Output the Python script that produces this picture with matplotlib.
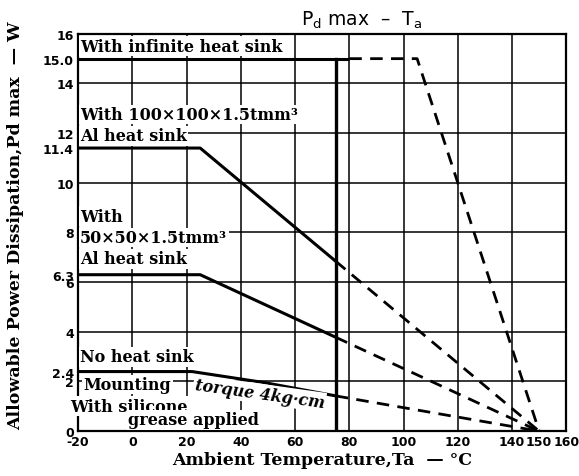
import numpy as np
import matplotlib
matplotlib.use("Agg")
import matplotlib.pyplot as plt

# ------------------------
# data
# ------------------------
x_ticks = [-20, 0, 20, 40, 60, 80, 100, 120, 140, 150, 160]
y_ticks = [0, 2, 2.4, 4, 6, 6.3, 8, 10, 11.4, 12, 14, 15.0, 16]
y_labels = ["0", "2", "2.4", "4", "6", "6.3", "8", "10", "11.4", "12", "14", "15.0", "16"]

# infinite heat sink
inf_T = [-20, 80]
inf_P = [15.0, 15.0]
inf_T_d = [80, 105, 150]
inf_P_d = [15.0, 15.0, 0]

# 100x100x1.5 Al heat sink
al100_T = [-20, 25, 75]
al100_P = [11.4, 11.4, 6.84]
al100_T_d = [75, 150]
al100_P_d = [6.84, 0]

# 50x50x1.5 Al heat sink
al50_T = [-20, 25, 75]
al50_P = [6.3, 6.3, 3.78]
al50_T_d = [75, 150]
al50_P_d = [3.78, 0]

# no heat sink
nohs_T = [-20, 22, 49, 75]
nohs_P = [2.4, 2.4, 1.95, 1.42]
nohs_T_d = [75, 150]
nohs_P_d = [1.42, 0]

# case limit line
limit_T = 75
limit_P = [0, 15.0]

# ------------------------
# figure
# ------------------------
fig = plt.figure(figsize=(5.79, 4.77), dpi=100)
ax = fig.add_axes([0.135, 0.094, 0.843, 0.833])

serif = "DejaVu Serif"

for t in range(-20, 161, 20):
    ax.axvline(t, color="black", lw=1.1, zorder=1)
for p in range(0, 17, 2):
    ax.axhline(p, color="black", lw=1.1, zorder=1)

solid = dict(color="black", lw=2.2, zorder=3, solid_capstyle="butt")
dashed = dict(color="black", lw=2.0, zorder=3, linestyle=(0, (4.5, 3)))

ax.plot(inf_T, inf_P, **solid)
ax.plot(inf_T_d, inf_P_d, **dashed)
ax.plot(al100_T, al100_P, **solid)
ax.plot(al100_T_d, al100_P_d, **dashed)
ax.plot(al50_T, al50_P, **solid)
ax.plot(al50_T_d, al50_P_d, **dashed)
ax.plot(nohs_T, nohs_P, **solid)
ax.plot(nohs_T_d, nohs_P_d, **dashed)
ax.plot([limit_T, limit_T], limit_P, color="black", lw=2.4, zorder=3)

ax.set_xlim(-20, 160)
ax.set_ylim(0, 16)
ax.set_xticks(x_ticks)
ax.set_xticklabels([str(t) for t in x_ticks], fontsize=9, fontweight="bold",
                   family="DejaVu Sans")
ax.set_yticks(y_ticks)
ax.set_yticklabels(y_labels, fontsize=9, fontweight="bold", family="DejaVu Sans")
ax.tick_params(length=0, pad=3)
for s in ax.spines.values():
    s.set_linewidth(1.6)

box = dict(facecolor="white", edgecolor="none", pad=1.0)
lab = dict(fontsize=11.5, family=serif, fontweight="bold", va="center",
           ha="left", zorder=4, bbox=box)

ax.text(-19.3, 15.5, "With infinite heat sink", **lab)
ax.text(-19.3, 12.75, "With 100×100×1.5tmm³", **lab)
ax.text(-19.3, 11.9, "Al heat sink", **lab)
ax.text(-19.3, 8.65, "With", **lab)
ax.text(-19.3, 7.8, "50×50×1.5tmm³", **lab)
ax.text(-19.3, 6.95, "Al heat sink", **lab)
ax.text(-19.3, 3.0, "No heat sink", **lab)
ax.text(-18.0, 1.88, "Mounting", **lab)
ax.text(23, 1.88, "torque 4kg·cm", fontsize=11.5, family=serif, style="italic",
        fontweight="bold", va="center", ha="left", rotation=-8,
        rotation_mode="anchor", zorder=4, bbox=box)
ax.text(-23, 1.0, "With silicone", clip_on=False, **lab)
ax.text(-1.5, 0.45, "grease applied", **lab)

ax.set_xlabel("Ambient Temperature,Ta  — °C", fontsize=12.5, family=serif,
              fontweight="bold", labelpad=2)
ax.set_ylabel("Allowable Power Dissipation,Pd max  — W", fontsize=12.5,
              family=serif, fontweight="bold", labelpad=6)
ax.yaxis.set_label_coords(-0.11, 0.52)

fig.text(0.625, 0.958, r"P$_\mathrm{d}$ max  –  T$_\mathrm{a}$", fontsize=13.5,
         family="DejaVu Sans", ha="center", va="center")

fig.savefig("out.png", dpi=100, facecolor="white")
